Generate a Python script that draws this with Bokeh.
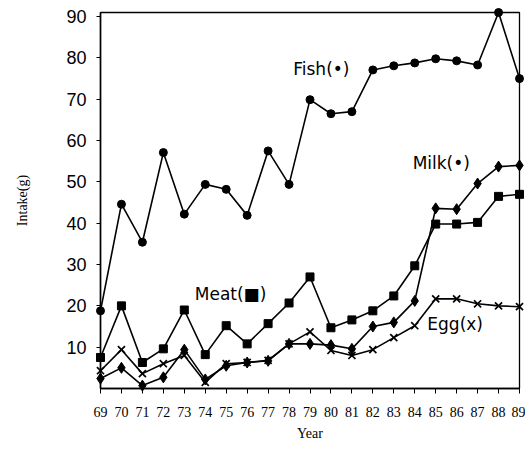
from bokeh.plotting import figure
from bokeh.models import FixedTicker, Range1d, Label
from bokeh.embed import file_html
from bokeh.resources import INLINE

# ---- data ----
years = list(range(69, 90))
year_labels = [str(y) for y in years]
y_ticks = [10, 20, 30, 40, 50, 60, 70, 80, 90]

fish = [18.8, 44.6, 35.4, 57.1, 42.2, 49.4, 48.2, 41.9, 57.5, 49.4, 69.9,
        66.5, 67.0, 77.1, 78.1, 78.8, 79.8, 79.3, 78.3, 91.0, 75.0]
meat = [7.5, 20.0, 6.3, 9.6, 19.0, 8.2, 15.2, 10.8, 15.7, 20.7, 27.0,
        14.7, 16.6, 18.8, 22.4, 29.7, 39.8, 39.8, 40.2, 46.5, 47.0]
milk = [2.4, 5.0, 0.7, 2.7, 9.4, 2.2, 5.5, 6.3, 6.7, 10.8, 10.8,
        10.5, 9.6, 15.0, 16.0, 21.2, 43.6, 43.4, 49.6, 53.7, 54.0]
egg = [4.3, 9.4, 3.6, 6.0, 8.0, 1.5, 6.0, 6.3, 6.8, 10.8, 13.7,
       9.2, 8.0, 9.4, 12.3, 15.2, 21.7, 21.7, 20.5, 20.0, 19.8]

series_names = ["Fish(•)", "Milk(•)", "Meat(■)", "Egg(x)"]
x_title = "Year"
y_title = "Intake(g)"

p = figure(frame_width=419, frame_height=376, output_backend="svg",
           toolbar_location=None,
           x_range=Range1d(69, 89), y_range=Range1d(0, 91),
           min_border_left=100, min_border_right=6, min_border_top=12,
           min_border_bottom=58)
p.background_fill_color = "white"
p.border_fill_color = "white"
p.outline_line_color = "black"
p.outline_line_width = 1.3
p.xgrid.visible = False
p.ygrid.visible = False

# axes
p.xaxis.ticker = FixedTicker(ticks=years)
p.xaxis.major_label_overrides = {y: s for y, s in zip(years, year_labels)}
p.xaxis.minor_tick_line_color = None
p.xaxis.major_tick_out = 5
p.xaxis.major_tick_in = 0
p.xaxis.major_label_standoff = 13
p.xaxis.major_label_text_font = "Liberation Serif"
p.xaxis.major_label_text_font_size = "14px"
p.xaxis.major_label_text_color = "black"
p.xaxis.axis_label = x_title
p.xaxis.axis_label_text_font = "Liberation Serif"
p.xaxis.axis_label_text_font_style = "normal"
p.xaxis.axis_label_text_font_size = "14px"
p.xaxis.axis_label_text_color = "black"
p.xaxis.axis_label_standoff = 6
p.xaxis.axis_line_width = 1.5

p.yaxis.ticker = FixedTicker(ticks=y_ticks)
p.yaxis.minor_tick_line_color = None
p.yaxis.major_tick_out = 4
p.yaxis.major_tick_in = 0
p.yaxis.major_label_standoff = 10
p.yaxis.major_label_text_font = "Liberation Sans"
p.yaxis.major_label_text_font_size = "18px"
p.yaxis.major_label_text_color = "black"
p.yaxis.axis_label = y_title
p.yaxis.axis_label_text_font = "Liberation Serif"
p.yaxis.axis_label_text_font_style = "normal"
p.yaxis.axis_label_text_font_size = "14px"
p.yaxis.axis_label_text_color = "black"
p.yaxis.axis_label_standoff = 33
p.yaxis.axis_line_width = 1.5

lw = 1.6
for vals in (fish, meat, milk, egg):
    r = p.line(years, vals, line_color="black", line_width=lw)
    r.level = "overlay"

r = p.scatter(years, fish, marker="circle", size=8, color="black")
r.level = "overlay"
r = p.scatter(years, meat, marker="square", size=8, color="black")
r.level = "overlay"
r = p.scatter(years, milk, marker="diamond", size=11, color="black")
r.level = "overlay"
r = p.scatter(years, egg, marker="x", size=10, line_color="black", line_width=1.7)
r.level = "overlay"

# series labels
label_pos = [(78.2, 77.3), (83.9, 54.5), (73.5, 22.9), (84.6, 15.7)]
for name, (lx, ly) in zip(series_names, label_pos):
    p.add_layout(Label(x=lx, y=ly, text=name, text_font="DejaVu Sans",
                       text_font_size="17px", text_color="black",
                       text_baseline="middle", text_align="left"))

open("out.html", "w").write(file_html(p, INLINE))
